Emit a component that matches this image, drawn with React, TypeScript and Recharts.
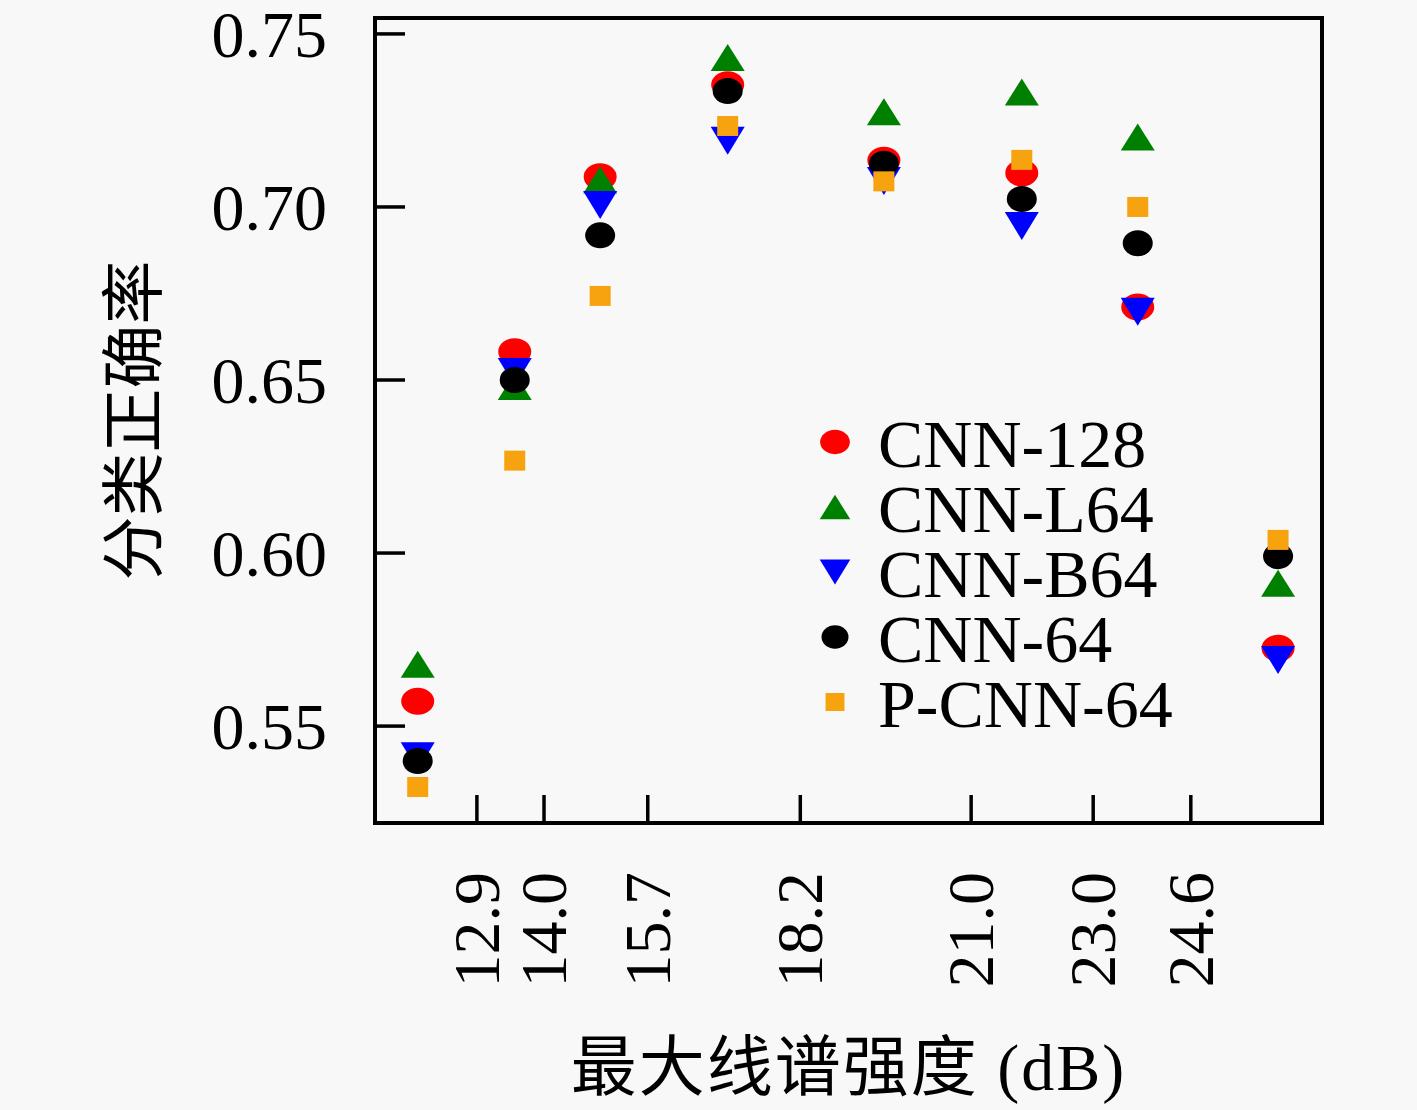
import React from "react";
import { ScatterChart, Scatter, XAxis, YAxis, ReferenceArea, Legend, Label } from "recharts";

// bin centres (dB) and classification accuracy per model
const intensity = [11.93, 13.52, 14.92, 17.01, 19.57, 21.83, 23.73, 26.03];
const cnn128 = [0.5572, 0.6582, 0.7087, 0.7353, 0.7135, 0.7098, 0.6711, 0.5725];
const cnnL64 = [0.5679, 0.6481, 0.7078, 0.7432, 0.7275, 0.7332, 0.7202, 0.5913];
const cnnB64 = [0.5413, 0.6523, 0.7006, 0.7191, 0.7075, 0.6945, 0.6697, 0.5691];
const cnn64 = [0.5399, 0.65, 0.6918, 0.7335, 0.7125, 0.7023, 0.6895, 0.5991];
const pcnn64 = [0.5324, 0.6267, 0.6743, 0.7234, 0.7074, 0.7136, 0.7, 0.6038];

const xTicks = [12.9, 14.0, 15.7, 18.2, 21.0, 23.0, 24.6];
const yTicks = [0.55, 0.6, 0.65, 0.7, 0.75];

const X_DOMAIN = [11.23, 26.75];
const Y_DOMAIN = [0.522, 0.7546];

const FONT = "'Liberation Serif', 'Noto Sans CJK SC', serif";
const FS = 66;

const series = [
  { name: "CNN-128", values: cnn128, color: "#ff0000", kind: "bigcircle" },
  { name: "CNN-L64", values: cnnL64, color: "#008000", kind: "up" },
  { name: "CNN-B64", values: cnnB64, color: "#0000ff", kind: "down" },
  { name: "CNN-64", values: cnn64, color: "#000000", kind: "circle" },
  { name: "P-CNN-64", values: pcnn64, color: "#f7a20f", kind: "square" },
];

const toPoints = (vals: number[]) => vals.map((v, i) => ({ x: intensity[i], y: v }));

function Marker({ cx, cy, kind, color, s = 1 }: any) {
  if (cx == null || cy == null) return null;
  if (kind === "bigcircle") return <ellipse cx={cx} cy={cy} rx={16.5 * s} ry={13.5 * s} fill={color} />;
  if (kind === "circle") return <ellipse cx={cx} cy={cy} rx={15 * s} ry={13 * s} fill={color} />;
  if (kind === "up")
    return <path d={`M${cx},${cy - 13.5 * s}L${cx + 17 * s},${cy + 13.5 * s}L${cx - 17 * s},${cy + 13.5 * s}Z`} fill={color} />;
  if (kind === "down")
    return <path d={`M${cx},${cy + 14 * s}L${cx + 17 * s},${cy - 14 * s}L${cx - 17 * s},${cy - 14 * s}Z`} fill={color} />;
  return <rect x={cx - 10.5 * s} y={cy - 10 * s} width={21 * s} height={20 * s} fill={color} />;
}

function XTick({ x, y, payload }: any) {
  return (
    <g>
      <line x1={x} y1={y} x2={x} y2={y - 28} stroke="#000" strokeWidth={3.5} />
      <text
        x={x + 22}
        y={y + 49}
        transform={`rotate(-90, ${x + 22}, ${y + 49})`}
        textAnchor="end"
        fontFamily={FONT}
        fontSize={FS}
        fill="#000"
      >
        {Number(payload.value).toFixed(1)}
      </text>
    </g>
  );
}

function YTick({ x, y, payload }: any) {
  return (
    <g>
      <line x1={x} y1={y} x2={x + 30} y2={y} stroke="#000" strokeWidth={3.5} />
      <text x={x - 48} y={y + 23} textAnchor="end" fontFamily={FONT} fontSize={FS} fill="#000">
        {Number(payload.value).toFixed(2)}
      </text>
    </g>
  );
}

function LegendBox() {
  return (
    <svg width={400} height={330} style={{ overflow: "visible" }}>
      {series.map((s, i) => (
        <g key={s.name}>
          <Marker cx={35} cy={37 + 65 * i} kind={s.kind} color={s.color} s={0.9} />
          <text x={78} y={37 + 65 * i + 25} fontFamily={FONT} fontSize={68} fill="#000">
            {s.name}
          </text>
        </g>
      ))}
    </svg>
  );
}

export default function App() {
  return (
    <div style={{ position: "absolute", left: 0, top: 0, width: 1417, height: 1110, background: "#f8f8f8" }}>
      <ScatterChart width={1417} height={1110} margin={{ top: 18, right: 95, bottom: 0, left: 0 }}>
        <XAxis
          type="number"
          dataKey="x"
          domain={X_DOMAIN}
          ticks={xTicks}
          interval={0}
          allowDataOverflow
          height={287}
          axisLine={false}
          tickLine={false}
          tickSize={0}
          tickMargin={0}
          tick={<XTick />}
        >
          <Label
            content={({ viewBox }: any) => (
              <text
                x={viewBox.x + viewBox.width / 2}
                y={viewBox.y + 267}
                textAnchor="middle"
                fontFamily={FONT}
                fontSize={66}
                letterSpacing={2}
                fill="#000"
              >
                最大线谱强度 (dB)
              </text>
            )}
          />
        </XAxis>
        <YAxis
          type="number"
          dataKey="y"
          domain={Y_DOMAIN}
          ticks={yTicks}
          interval={0}
          allowDataOverflow
          width={375}
          axisLine={false}
          tickLine={false}
          tickSize={0}
          tickMargin={0}
          tick={<YTick />}
        >
          <Label
            content={({ viewBox }: any) => {
              const cx = viewBox.x + 134;
              const cy = viewBox.y + viewBox.height / 2;
              return (
                <text
                  x={cx}
                  y={cy}
                  transform={`rotate(-90, ${cx}, ${cy})`}
                  textAnchor="middle"
                  dominantBaseline="central"
                  fontFamily={FONT}
                  fontSize={64}
                  fill="#000"
                >
                  分类正确率
                </text>
              );
            }}
          />
        </YAxis>
        <ReferenceArea
          x1={X_DOMAIN[0]}
          x2={X_DOMAIN[1]}
          y1={Y_DOMAIN[0]}
          y2={Y_DOMAIN[1]}
          fill="none"
          stroke="#000"
          strokeWidth={4}
          ifOverflow="visible"
        />
        {series.map((s) => (
          <Scatter
            key={s.name}
            name={s.name}
            data={toPoints(s.values)}
            fill={s.color}
            isAnimationActive={false}
            shape={(p: any) => <Marker cx={p.cx} cy={p.cy} kind={s.kind} color={s.color} />}
          />
        ))}
        <Legend
          layout="vertical"
          align="center"
          verticalAlign="middle"
          content={() => <LegendBox />}
          wrapperStyle={{ left: 800, top: 405, width: 400, height: 330 }}
        />
      </ScatterChart>
    </div>
  );
}
